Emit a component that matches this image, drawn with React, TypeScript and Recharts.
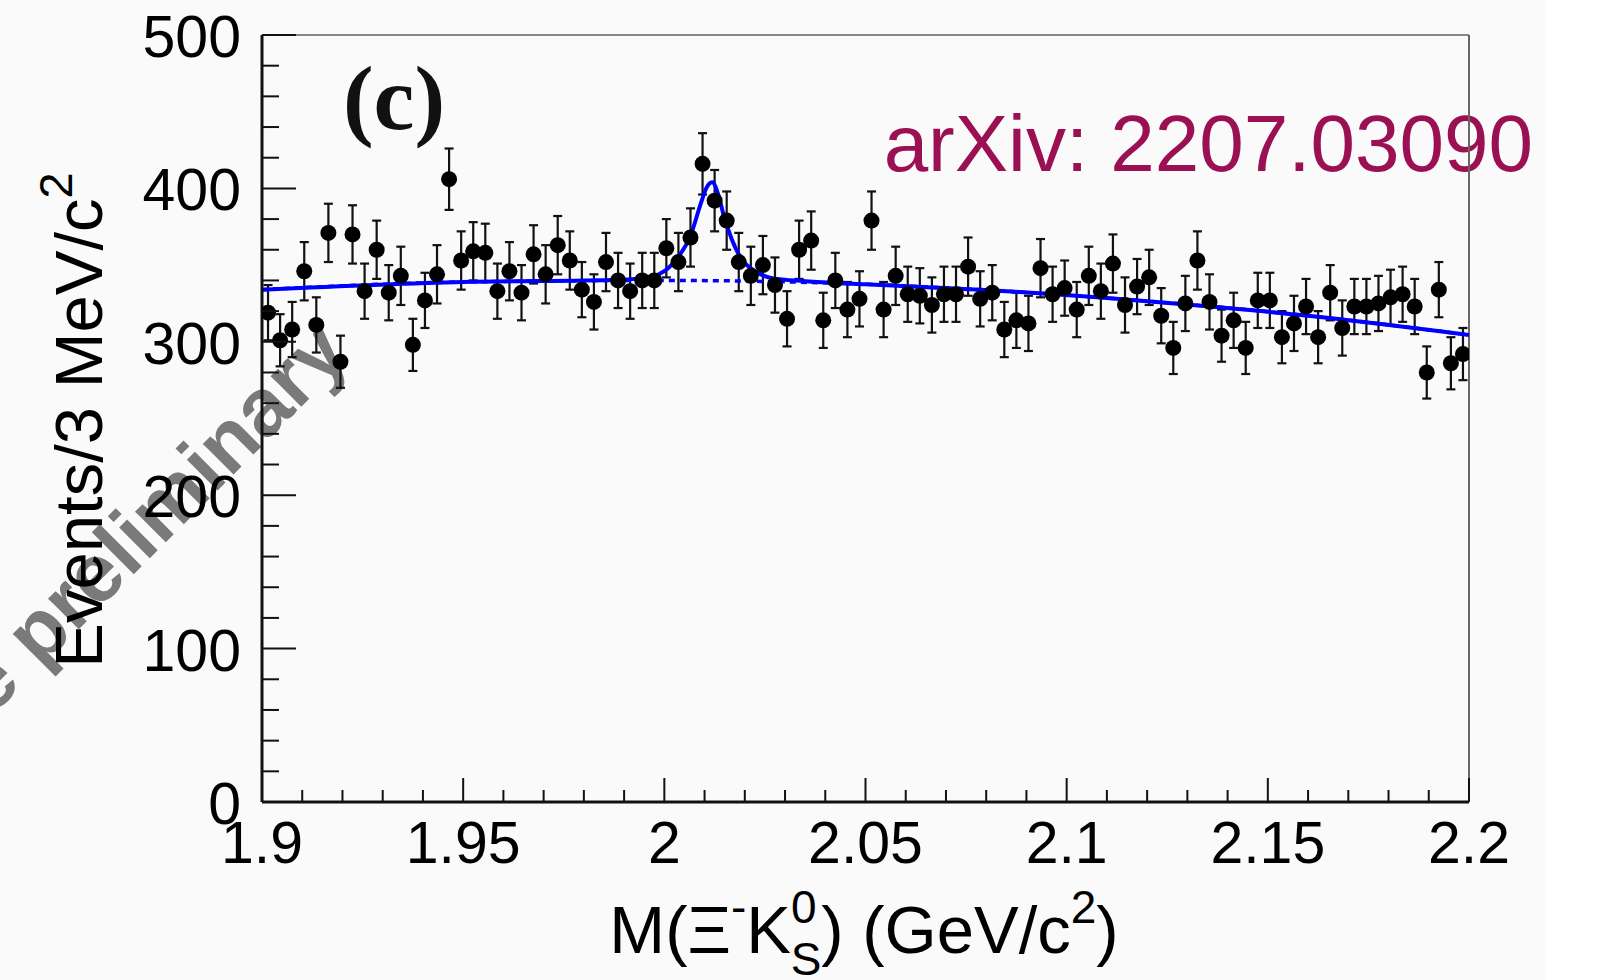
import React from 'react';
import { ComposedChart, Scatter, Line, XAxis, YAxis, ErrorBar, ReferenceLine } from 'recharts';

// Histogram binning: 3 MeV bins from 1.9 GeV
const BIN_LOW = 1.9;
const BIN_WIDTH = 0.003;

// Events per bin
const COUNTS = [
  319, 301, 308, 346, 311, 371, 287, 370, 333, 360,
  332, 343, 298, 327, 344, 406, 353, 359, 358, 333,
  346, 332, 357, 344, 363, 353, 334, 326, 352, 340,
  333, 340, 340, 361, 352, 368, 416, 392, 379, 352,
  343, 350, 337, 315, 360, 366, 314, 340, 321, 328,
  379, 321, 343, 331, 330, 324, 331, 331, 349, 328,
  332, 308, 314, 312, 348, 331, 335, 321, 343, 333,
  351, 324, 336, 342, 317, 296, 325, 353, 326, 304,
  314, 296, 327, 327, 303, 312, 323, 303, 332, 309,
  323, 323, 325, 329, 331, 323, 280, 334, 286, 292,
];

// Error bar half-lengths
const ERRORS = [
  18, 17, 18, 19, 18, 19, 17, 19, 18, 19,
  18, 19, 17, 18, 19, 20, 19, 19, 19, 18,
  19, 18, 19, 19, 19, 19, 18, 18, 19, 18,
  18, 18, 18, 19, 19, 19, 20, 20, 19, 19,
  19, 19, 18, 18, 19, 19, 18, 18, 18, 18,
  19, 18, 19, 18, 18, 18, 18, 18, 19, 18,
  18, 18, 18, 18, 19, 18, 18, 18, 19, 18,
  19, 18, 18, 18, 18, 17, 18, 19, 18, 17,
  18, 17, 18, 18, 17, 18, 18, 17, 18, 18,
  18, 18, 18, 18, 18, 18, 17, 18, 17, 17,
];

// Total fit curve (signal + background)
const FIT_MASS = [1.9, 1.95, 1.989, 1.997, 2.0, 2.0035, 2.0064, 2.0093, 2.0105, 2.0119, 2.0134, 2.0147, 2.0168, 2.0193, 2.0226, 2.0268, 2.035, 2.05, 2.085, 2.12, 2.16, 2.2];
const FIT_TOTAL = [334, 339, 340.5, 342.5, 346, 355.5, 368.5, 392, 400.5, 404, 396, 383, 366.5, 353.5, 346, 341.5, 339.5, 337.5, 333, 326.5, 317, 304.5];

// Background-only curve (dotted)
const BKG_MASS = [1.9, 1.95, 2.0, 2.05, 2.085, 2.12, 2.16, 2.2];
const BKG_VALUES = [334, 339, 340, 337.5, 333, 326.5, 317, 304.5];

const X_TICKS = [
  1.9, 1.91, 1.92, 1.93, 1.94, 1.95, 1.96, 1.97, 1.98, 1.99,
  2.0, 2.01, 2.02, 2.03, 2.04, 2.05, 2.06, 2.07, 2.08, 2.09,
  2.1, 2.11, 2.12, 2.13, 2.14, 2.15, 2.16, 2.17, 2.18, 2.19, 2.2,
];
const X_TICK_LABELS = ['1.9', '1.95', '2', '2.05', '2.1', '2.15', '2.2'];
const Y_TICKS = [0, 20, 40, 60, 80, 100, 120, 140, 160, 180, 200, 220, 240, 260, 280, 300, 320, 340, 360, 380, 400, 420, 440, 460, 480, 500];
const Y_TICK_LABELS = ['0', '100', '200', '300', '400', '500'];

const points = COUNTS.map((n, i) => ({ x: BIN_LOW + BIN_WIDTH * (i + 0.5), y: n, err: ERRORS[i] }));
const fitData = FIT_MASS.map((x, i) => ({ x, y: FIT_TOTAL[i] }));
const bkgData = BKG_MASS.map((x, i) => ({ x, y: BKG_VALUES[i] }));

const FONT = '"Liberation Sans", Arial, Helvetica, sans-serif';
const SERIF = '"Liberation Serif", "Times New Roman", serif';

function XTick(props: any) {
  const { x, y, payload } = props;
  const v = payload.value;
  const label = X_TICK_LABELS.find((l) => Math.abs(Number(l) - v) < 1e-6);
  return (
    <g>
      <line x1={x} x2={x} y1={y} y2={y - (label ? 24 : 12)} stroke="#111" strokeWidth={2} />
      {label && (
        <text x={x} y={y + 61} textAnchor="middle" fontSize={59} fontFamily={FONT} fill="#000">
          {label}
        </text>
      )}
    </g>
  );
}

function YTick(props: any) {
  const { x, y, payload } = props;
  const v = payload.value;
  const label = Y_TICK_LABELS.find((l) => Math.abs(Number(l) - v) < 1e-6);
  return (
    <g>
      <line x1={x} x2={x + (label ? 34 : 17)} y1={y} y2={y} stroke="#111" strokeWidth={2} />
      {label && (
        <text x={x - 21} y={y + 22} textAnchor="end" fontSize={59} fontFamily={FONT} fill="#000">
          {label}
        </text>
      )}
    </g>
  );
}

const Dot = (p: any) => <circle cx={p.cx} cy={p.cy} r={8} fill="#000" />;

export default function App() {
  return (
    <div style={{ position: 'absolute', left: 0, top: 0, width: 1599, height: 980, background: '#fafafa', overflow: 'hidden' }}>
      <div style={{ position: 'absolute', left: 1546, top: 0, width: 53, height: 980, background: '#ffffff' }} />
      <svg width={1599} height={980} style={{ position: 'absolute', left: 0, top: 0 }}>
        <text x={352} y={356} transform="rotate(-45 352 356)" textAnchor="end" fontSize={82} fontWeight="bold" fill="#7a7a7a" fontFamily={FONT}>
          Results are preliminary
        </text>
        <text x={394} y={129} textAnchor="middle" fontSize={92} fontWeight="bold" fontFamily={SERIF} fill="#111">
          (c)
        </text>
        <text x={1533} y={171} textAnchor="end" fontSize={80} fill="#9b1052" fontFamily={FONT}>
          arXiv: 2207.03090
        </text>
        <text x={102} y={420} transform="rotate(-90 102 420)" textAnchor="middle" fontSize={67} fontFamily={FONT} fill="#000">
          Events/3 MeV/c<tspan fontSize={47} dy={-30}>2</tspan>
        </text>
        <text x={864} y={953} textAnchor="middle" fontSize={67} fontFamily={FONT} fill="#000">
          M(Ξ<tspan fontSize={46} dy={-30}>-</tspan>
          <tspan dy={30}>K</tspan>
          <tspan fontSize={46} dy={-30}>0</tspan>
          <tspan fontSize={46} dx={-26} dy={52}>S</tspan>
          <tspan dy={-22}>) (GeV/c</tspan>
          <tspan fontSize={46} dy={-30}>2</tspan>
          <tspan dy={30}>)</tspan>
        </text>
      </svg>
      <div style={{ position: 'absolute', left: 0, top: 0 }}>
        <ComposedChart width={1599} height={980} margin={{ top: 35, right: 130, bottom: 78, left: 162 }}>
          <XAxis
            dataKey="x"
            type="number"
            domain={[1.9, 2.2]}
            ticks={X_TICKS}
            interval={0}
            allowDataOverflow
            height={100}
            tickSize={0}
            tickMargin={0}
            tickLine={false}
            axisLine={{ stroke: '#111', strokeWidth: 3 }}
            tick={(p: any) => <XTick {...p} />}
          />
          <YAxis
            dataKey="y"
            type="number"
            domain={[0, 500]}
            ticks={Y_TICKS}
            interval={0}
            allowDataOverflow
            width={100}
            tickSize={0}
            tickMargin={0}
            tickLine={false}
            axisLine={{ stroke: '#111', strokeWidth: 3 }}
            tick={(p: any) => <YTick {...p} />}
          />
          <ReferenceLine y={500} stroke="#888" strokeWidth={2} />
          <ReferenceLine x={2.2} stroke="#666" strokeWidth={2} />
          <Scatter data={points} dataKey="y" shape={Dot} isAnimationActive={false}>
            <ErrorBar dataKey="err" direction="y" width={4.5} strokeWidth={2.2} stroke="#111" isAnimationActive={false} />
          </Scatter>
          <Line data={bkgData} dataKey="y" type="monotone" stroke="#0000ff" strokeWidth={3.5} strokeDasharray="6 5" dot={false} activeDot={false} isAnimationActive={false} />
          <Line data={fitData} dataKey="y" type="monotone" stroke="#0000ff" strokeWidth={4} dot={false} activeDot={false} isAnimationActive={false} />
        </ComposedChart>
      </div>
    </div>
  );
}
